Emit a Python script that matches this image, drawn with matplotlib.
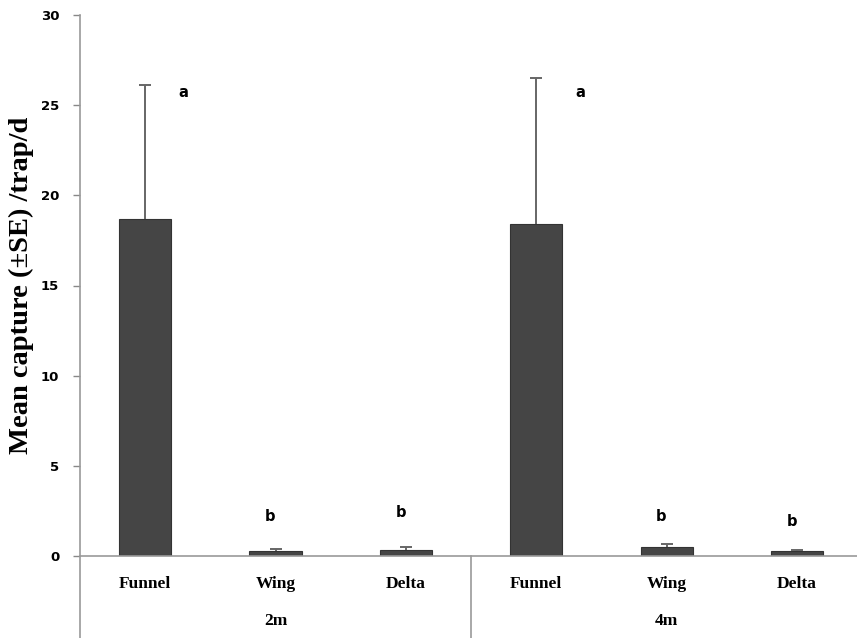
import matplotlib.pyplot as plt

# data
groups = ["2m", "4m"]
traps = ["Funnel", "Wing", "Delta"]
means_2m = [18.7, 0.25, 0.35]
se_2m = [7.4, 0.12, 0.15]
means_4m = [18.4, 0.5, 0.25]
se_4m = [8.1, 0.15, 0.1]
letters = ["a", "b", "b", "a", "b", "b"]
letter_y = [25.7, 2.2, 2.4, 25.7, 2.2, 1.9]


def main():
    means = means_2m + means_4m
    errs = se_2m + se_4m
    labels = traps * len(groups)
    x = list(range(len(means)))

    fig = plt.figure(figsize=(8.57, 6.38), dpi=100)
    ax = fig.add_axes([80 / 857, 82 / 638, 777 / 857, 541 / 638])

    ax.bar(x, means, width=0.4, color="#454545", edgecolor="#333333", linewidth=0.8, zorder=2)
    eb = ax.errorbar(x, means, yerr=[[0] * len(errs), errs], fmt="none",
                     ecolor="#666666", elinewidth=1.4, capsize=4, capthick=1.4, zorder=3)
    # only the upper cap is shown
    eb[1][0].set_visible(False)

    offsets = [0.33, 0, 0, 0.38, 0, 0]
    for i, (lt, ly) in enumerate(zip(letters, letter_y)):
        ax.text(x[i] + offsets[i] - 0.04, ly, lt, ha="center", va="center",
                fontsize=10.5, fontweight="bold", family="DejaVu Sans")

    ax.set_xlim(-0.5, 5.46)
    ax.set_ylim(0, 30)
    ax.set_yticks(range(0, 31, 5))
    ax.set_xticks([])
    for lab in ax.get_yticklabels():
        lab.set_fontweight("bold")
        lab.set_fontsize(9.5)
    ax.tick_params(axis="y", direction="out", length=5, width=1, color="#888888", pad=10)

    for s in ["top", "right", "left"]:
        ax.spines[s].set_visible(False)
    ax.spines["bottom"].set_color("#999999")
    ax.spines["bottom"].set_linewidth(1.2)

    # left axis line running down past the category labels, and group separator
    ax.plot([0, 0], [-82 / 541, 1], transform=ax.transAxes, color="#999999",
            lw=1.2, clip_on=False)
    sep = (2.5 + 0.5) / 5.96
    ax.plot([sep, sep], [-82 / 541, 0], transform=ax.transAxes, color="#999999",
            lw=1.2, clip_on=False)

    for i, lab in enumerate(labels):
        ax.text(x[i], -1.55, lab, ha="center", va="center", fontsize=12.5,
                fontweight="bold", family="Liberation Serif")
    for j, g in enumerate(groups):
        ax.text(1 + 3 * j, -3.6, g, ha="center", va="center", fontsize=12.5,
                fontweight="bold", family="Liberation Serif")

    ax.set_ylabel("Mean capture (\u00b1SE) /trap/d", fontsize=20.5, fontweight="bold",
                  family="Liberation Serif", labelpad=5)

    fig.savefig("out.png", dpi=100)


if __name__ == "__main__":
    main()
